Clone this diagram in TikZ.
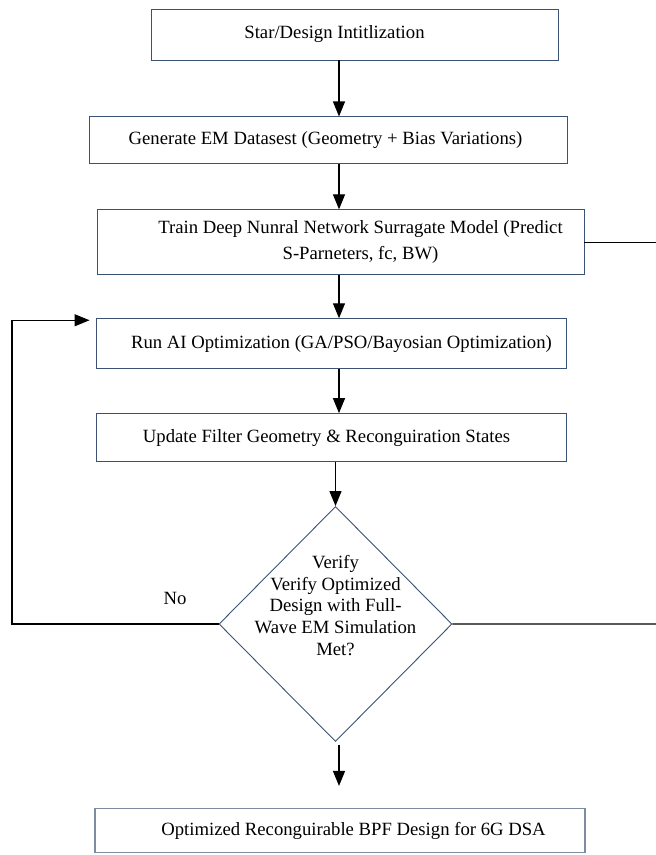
\documentclass[tikz,border=0pt]{standalone}
\usepackage{fontspec}
\setmainfont{Liberation Serif}
\usetikzlibrary{positioning,arrows.meta,shapes.geometric}
\definecolor{BoxEdge}{HTML}{3A5273}
\definecolor{FinalEdge}{HTML}{7D8CA1}

\begin{document}
\begin{tikzpicture}[
  x=1pt,y=1pt,
  font=\fontsize{18.7}{21.7}\selectfont,
  box/.style={draw=BoxEdge,line width=0.9pt,inner sep=0pt},
  decision/.style={diamond,draw=BoxEdge,line width=0.9pt,inner sep=0pt,minimum width=233pt,minimum height=235pt},
  arr/.style={-{Triangle[length=15pt,width=12pt]},line width=1.2pt},
  link/.style={line width=1.2pt}
]
\useasboundingbox (0,0) rectangle (656,-855);
\coordinate (spine) at (339,0);
\coordinate (loopx) at (12,0);
\coordinate (edgeA) at (656,-239);
\coordinate (edgeB) at (656,-624);

% process boxes (text sits a little off centre in each frame)
\node[box,minimum width=407pt,minimum height=51pt,
  label={[xshift=-20pt]center:Star/Design Intitlization}] (start) at (354.5,-34.5) {};
\node[box,minimum width=478pt,minimum height=47pt,below=56pt of start,xshift=-26.5pt,
  label={[xshift=-2.5pt]center:Generate EM Datasest (Geometry + Bias Variations)}] (dataset) {};
\node[box,minimum width=487pt,minimum height=65pt,below=45pt of dataset,xshift=12.5pt,
  label={[align=center,xshift=20pt]center:Train Deep Nunral Network Surragate Model (Predict\\[4pt]S-Parneters, fc, BW)}] (train) {};
\node[box,minimum width=470pt,minimum height=50pt,below=43pt of train,xshift=-9.5pt,
  label={[xshift=10.5pt]center:Run AI Optimization (GA/PSO/Bayosian Optimization)}] (run) {};
\node[box,minimum width=470pt,minimum height=48pt,below=44pt of run,
  label={[xshift=-4.5pt]center:Update Filter Geometry \& Reconguiration States}] (update) {};
\node[decision,below=44pt of update,xshift=4.5pt,
  label={[align=center,yshift=18.5pt]center:Verify\\Verify Optimized\\Design with Full-\\Wave EM Simulation\\Met?}] (check) {};
\node[box,draw=FinalEdge,line width=1.4pt,minimum width=490pt,minimum height=44pt,below=66pt of check,xshift=4.5pt,
  label={[xshift=13.5pt]center:Optimized Reconguirable BPF Design for 6G DSA}] (final) {};
\node (no) at (175,-598) {No};

% main flow
\draw[arr] (start.south -| spine) -- (dataset.north -| spine);
\draw[arr] (dataset.south -| spine) -- (train.north -| spine);
\draw[arr] (train.south -| spine) -- (run.north -| spine);
\draw[arr] (run.south -| spine) -- (update.north -| spine);
\draw[arr] (update.south -| check.north) -- (check.north);
\draw[arr,shorten <=3pt,shorten >=22pt] (check.south -| spine) -- (final.north -| spine);

% feedback and side lines
\draw[arr,shorten >=6pt] (check.west) -- (check.west -| loopx) |- ([yshift=-2pt]run.north west);
\draw[link] (train.east) -- (train.east -| edgeA);
\draw[link] (check.east) -- (edgeB);
\end{tikzpicture}
\end{document}
